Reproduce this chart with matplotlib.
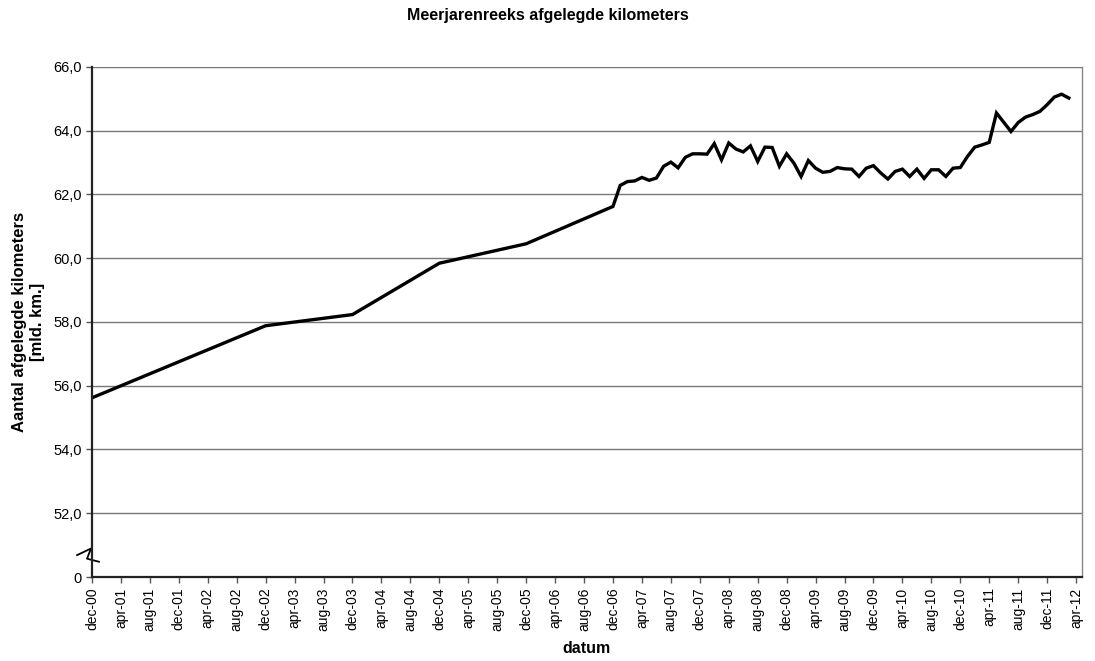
import matplotlib.pyplot as plt

plt.rcParams['font.family'] = ['Liberation Sans', 'DejaVu Sans']

# Data: x = months since dec-00
yearly_months = [0, 24, 36, 48, 60]
yearly_values = [55.62, 57.88, 58.23, 59.84, 60.45]

monthly_start = 72  # dec-06
monthly_values = [61.62, 62.28, 62.40, 62.42, 62.53, 62.44, 62.51, 62.88, 63.01, 62.83,
                  63.16, 63.27, 63.27, 63.26, 63.59, 63.08, 63.61, 63.42, 63.33, 63.52,
                  63.03, 63.48, 63.47, 62.88, 63.27, 62.98, 62.56, 63.06, 62.82, 62.69,
                  62.72, 62.84, 62.80, 62.79, 62.56, 62.82, 62.90, 62.67, 62.48, 62.72,
                  62.79, 62.56, 62.79, 62.50, 62.77, 62.77, 62.56, 62.82, 62.84, 63.19,
                  63.48, 63.55, 63.63, 64.55, 64.26, 63.97, 64.25, 64.42, 64.50, 64.60,
                  64.81, 65.05, 65.14, 65.02]

tick_months = list(range(0, 137, 4))
tick_labels = []
for m in tick_months:
    total = 12 * 2000 + 11 + m  # dec-00
    yr, mo = divmod(total, 12)
    tick_labels.append(['jan', 'feb', 'mrt', 'apr', 'mei', 'jun', 'jul', 'aug',
                        'sep', 'okt', 'nov', 'dec'][mo] + '-%02d' % (yr % 100))

y_ticks = [50, 52, 54, 56, 58, 60, 62, 64, 66]
y_labels = ['0', '52,0', '54,0', '56,0', '58,0', '60,0', '62,0', '64,0', '66,0']

x = yearly_months + list(range(monthly_start, monthly_start + len(monthly_values)))
y = yearly_values + monthly_values

fig = plt.figure(figsize=(10.95, 6.61), dpi=100)
ax = fig.add_axes([0.084, 0.127, 0.904, 0.772])

ax.plot(x, y, color='black', lw=2.4, solid_joinstyle='miter')

ax.set_xlim(0, 136.8)
ax.set_ylim(50, 66)
ax.set_yticks(y_ticks)
ax.set_yticklabels(y_labels, fontsize=10.5)
ax.set_xticks(tick_months)
ax.set_xticklabels(tick_labels, rotation=90, fontsize=10)
ax.tick_params(axis='both', direction='out', length=4, width=1, color='#555555')

for v in y_ticks[1:]:
    ax.axhline(v, color='#777777', lw=1, zorder=0)

for s in ['left', 'bottom']:
    ax.spines[s].set_linewidth(1.6)
    ax.spines[s].set_color('#222222')
ax.spines['top'].set_visible(False)
ax.spines['right'].set_color('#888888')
ax.spines['right'].set_linewidth(1)

# axis break symbol
ax.plot([-0.015, -0.001, -0.005, 0.007], [0.043, 0.056, 0.036, 0.030],
        transform=ax.transAxes, color='black', lw=1.3, clip_on=False)

fig.text(0.5, 0.976, 'Meerjarenreeks afgelegde kilometers', fontsize=11.5,
         fontweight='bold', ha='center', va='center')
ax.set_xlabel('datum', fontsize=11.5, fontweight='bold', labelpad=7)
ax.set_ylabel('Aantal afgelegde kilometers\n[mld. km.]', fontsize=12,
              fontweight='bold', labelpad=6)

fig.savefig('out.png', dpi=100)
